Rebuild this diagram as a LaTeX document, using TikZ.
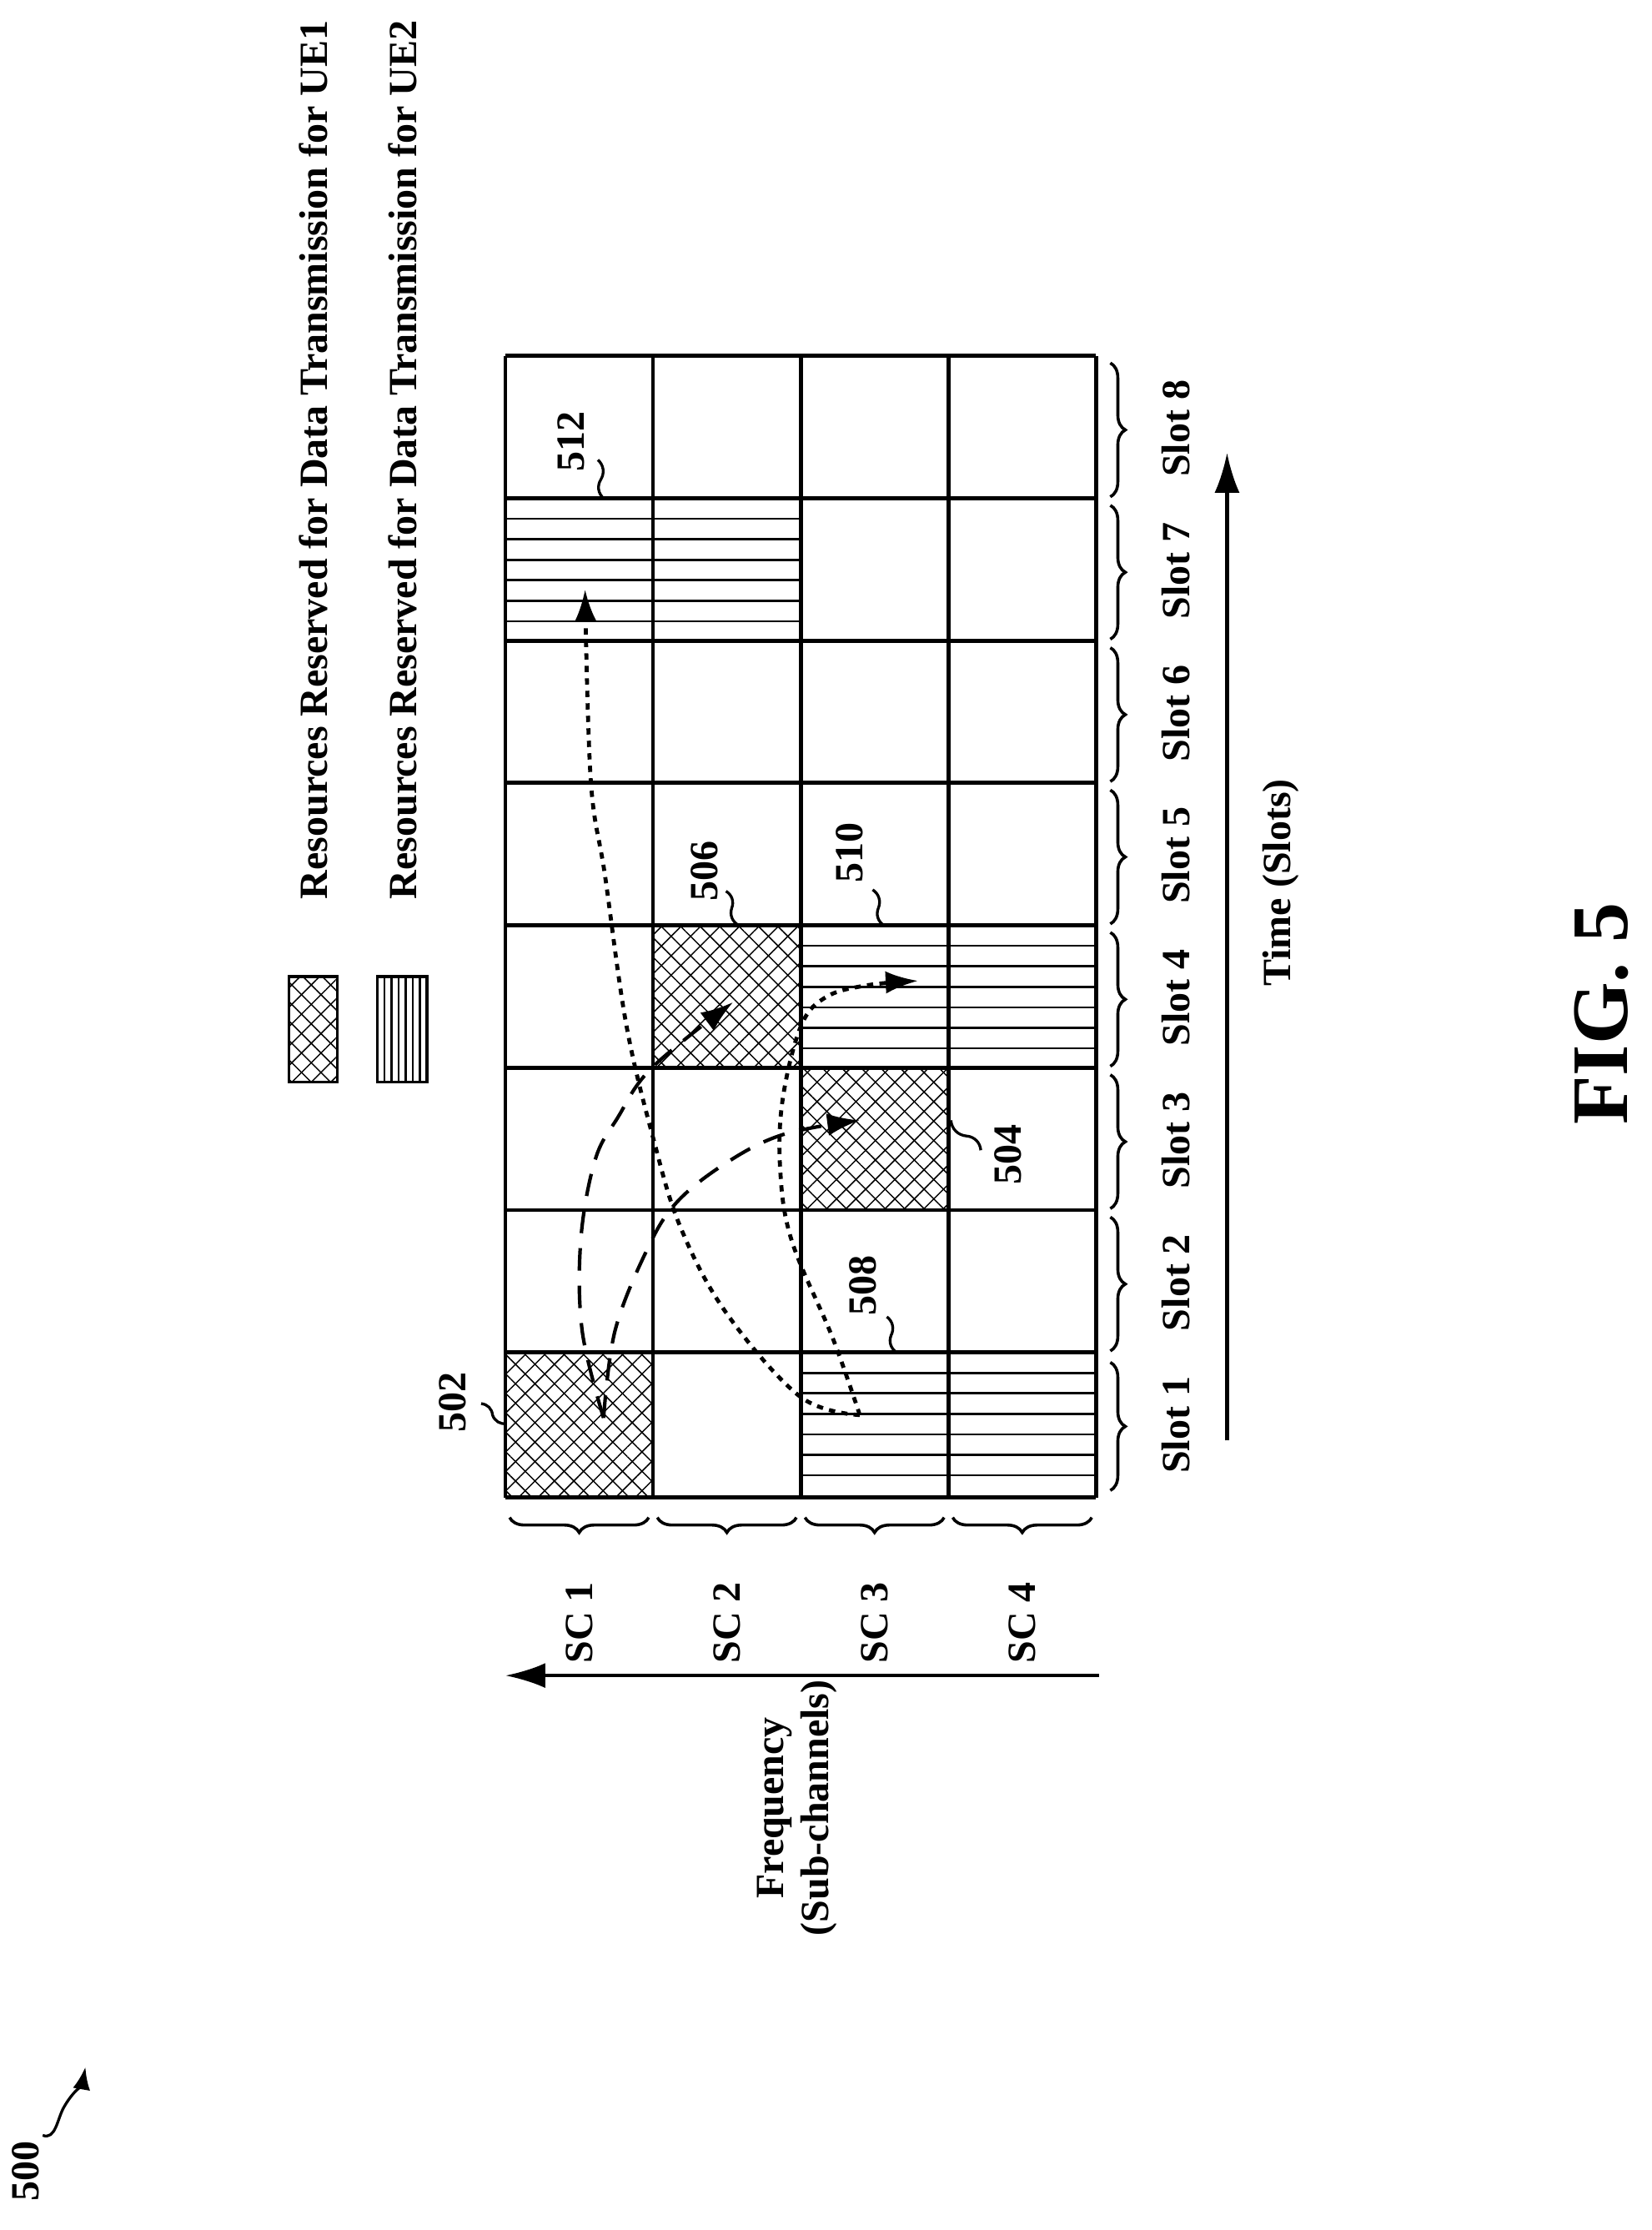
\documentclass[tikz,border=0pt]{standalone}
\usepackage{fontspec}
\setmainfont{Liberation Serif}
\usetikzlibrary{patterns.meta,decorations.pathreplacing,arrows.meta,calc}
\begin{document}
\begin{tikzpicture}[x=0.02cm,y=-0.02cm,
  grid/.style={line width=1.6pt},
  lbl/.style={font=\fontsize{16}{18}\selectfont\bfseries,rotate=90,inner sep=0pt},
  xh1/.style={pattern={Lines[angle=45,distance=5.5pt,line width=0.5pt]}},
  xh2/.style={pattern={Lines[angle=-45,distance=5.5pt,line width=0.5pt]}},
  hl/.style={line width=0.9pt},
  brc/.style={decorate,decoration={brace,amplitude=6pt,mirror},line width=1.2pt},
  dsh/.style={line width=1.4pt,dash pattern=on 9pt off 6pt,-{Latex[length=13pt,width=9pt]}},
  dot/.style={line width=1.6pt,dash pattern=on 2.5pt off 2.5pt,-{Latex[length=13pt,width=9pt]}},
  sq/.style={line width=1.1pt}]
\useasboundingbox (0,0) rectangle (1160,1566.5);

% legend
\fill[xh1] (203,686) rectangle (237,760);
\fill[xh2] (203,686) rectangle (237,760);
\draw[line width=1.2pt] (203,686) rectangle (237,760);
\draw[line width=1.2pt] (265,686) rectangle (300,760);
\foreach \i in {1,...,6} \draw[hl] (265+5*\i,686) -- (265+5*\i,760);
\node[lbl,anchor=west] (leg1) at (220,632) {Resources Reserved for Data Transmission for UE1};
\node[lbl,anchor=west] (leg2) at (283,632) {Resources Reserved for Data Transmission for UE2};

% hatched cells
\foreach \x/\y in {355/950,563/750,460/650}{
  \fill[xh1] (\x,\y) rectangle ++(103.75,100);
  \fill[xh2] (\x,\y) rectangle ++(103.75,100);}
\foreach \xa/\xb/\ya in {563/770/950,563/770/650,355/563/350}{
  \foreach \k in {1,...,6} \draw[hl] (\xa,\ya+14.4*\k) -- (\xb,\ya+14.4*\k);}

% grid
\foreach \x in {355,458.75,562.5,666.25,770} \draw[grid] (\x,250) -- (\x,1052);
\foreach \y in {250,350,450,550,650,750,850,950,1052} \draw[grid] (355,\y) -- (770,\y);

% slot braces and labels
\foreach \k in {1,...,8}{
  \pgfmathsetmacro{\yb}{1052-100*(\k-1)-(\k==1?2:0)}
  \pgfmathsetmacro{\yt}{1052-100*\k+(\k==1?2:0)}
  \draw[brc] (780,\yb-3) -- (780,\yt+3);
  \node[lbl] (slot\k) at (826,{1001-100*(\k-1)}) {Slot \k};}
% SC braces and labels
\foreach \k in {1,...,4}{
  \draw[brc] ({355+103.75*(\k-1)+3},1066) -- ({355+103.75*\k-3},1066);
  \node[lbl] (sc\k) at ({407+103.75*(\k-1)},1140) {SC \k};}

% axes
\coordinate (t0) at (862,1012);
\coordinate (t1) at (862,318);
\draw[line width=1.4pt,-{Latex[length=16pt,width=10pt]}] (t0) -- (t1);
\node[lbl] (time) at (900,620) {Time (Slots)};
\coordinate (f0) at (772,1177);
\coordinate (f1) at (355,1177);
\draw[line width=1.4pt,-{Latex[length=16pt,width=10pt]}] (f0) -- (f1);
\node[lbl,align=center] (freq) at (560,1270) {Frequency\\(Sub-channels)};

\node[font=\fontsize{32}{36}\selectfont\bfseries,rotate=90] (fig) at (1125,712) {FIG. 5};

% 500
\node[lbl] (n500) at (18,1525) {500};
\coordinate (a500) at (60,1452);
\draw[sq,-{Latex[length=9pt,width=7pt]}] (30,1500) to[out=-20,in=-120] (45,1480) to[out=60,in=-100] (a500);

% reference numerals
\node[lbl] (n502) at (318,985) {502};
\draw[sq] (338,986) to[bend left=40] (346,994) to[bend right=40] (356,1000);
\node[lbl] (n504) at (708,811) {504};
\draw[sq] (668,787) to[bend right=40] (679,798) to[bend left=40] (689,808);
\node[lbl] (n506) at (495,612) {506};
\draw[sq] (510,626) to[bend left=40] (514,638) to[bend right=40] (519,650);
\node[lbl] (n508) at (606,903) {508};
\draw[sq] (623,925) to[bend left=40] (626,938) to[bend right=40] (630,950);
\node[lbl] (n510) at (597,599) {510};
\draw[sq] (613,625) to[bend left=40] (617,638) to[bend right=40] (621,650);
\node[lbl] (n512) at (401,310) {512};
\draw[sq] (420,323) to[bend left=40] (422,337) to[bend right=40] (424,350);

% connectors
\coordinate (s1) at (424,996);
\coordinate (e506) at (515,704);
\coordinate (e504) at (604,787);
\coordinate (s2) at (604,994);
\coordinate (e510) at (645,689);
\coordinate (e512) at (411,414);
\draw[dsh] plot[smooth,tension=0.6] coordinates {(s1) (409,935) (408,871) (418,815) (434,785) (458,750) (e506)};
\draw[dsh] plot[smooth,tension=0.6] coordinates {(s1) (432,935) (454,879) (475,845) (510,817) (550,797) (e504)};
\draw[dot] plot[smooth,tension=0.6] coordinates {(s2) (585,940) (556,871) (548,820) (550,771) (563,720) (581,700) (610,692) (e510)};
\draw[dot] plot[smooth,tension=0.6] coordinates {(s2) (562,981) (510,922) (478,862) (459,800) (440,720) (425,615) (415,548) (e512)};
\end{tikzpicture}
\end{document}
